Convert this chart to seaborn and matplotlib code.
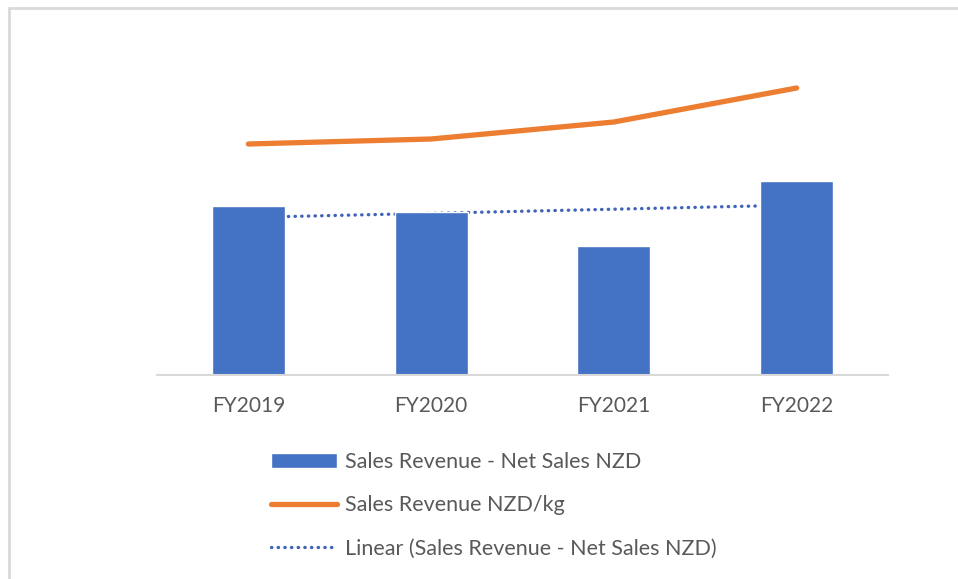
import numpy as np
import pandas as pd
import matplotlib
matplotlib.use("Agg")
import matplotlib.pyplot as plt
from matplotlib.patches import Rectangle
import seaborn as sns

# data (units are estimates)
years = ["FY2019", "FY2020", "FY2021", "FY2022"]
net_sales = [16.9, 16.3, 12.9, 19.4]
nzd_per_kg = [23.1, 23.6, 25.3, 28.7]

df = pd.DataFrame({"year": years, "net_sales": net_sales, "nzd_per_kg": nzd_per_kg})

sns.set_theme(style="white")
plt.rcParams["font.family"] = ["Lato", "DejaVu Sans"]

blue = "#4472C4"
orange = "#ED7D31"
grey_text = "#595959"

fig = plt.figure(figsize=(9.58, 5.79), dpi=100)
ax = fig.add_axes([157 / 958, 1 - 375 / 579, 731 / 958, 325 / 579])

# linear trend of the bars
idx = np.arange(len(years))
slope, intercept = np.polyfit(idx, df["net_sales"], 1)
trend = slope * idx + intercept
trend_line, = ax.plot(idx, trend, color="#3F63B8", lw=2.4, linestyle=(0, (0.1, 1.9)),
                      dash_capstyle="round", zorder=1)

sns.barplot(data=df, x="year", y="net_sales", color=blue, width=0.4,
            saturation=1, ax=ax, zorder=2)

ax2 = ax.twinx()
sns.lineplot(x=idx, y=df["nzd_per_kg"], color=orange, lw=3.8, ax=ax2,
             solid_capstyle="round", legend=False)

ax.set_xlim(-0.5, 3.5)
ax.set_ylim(0, 32.5)
ax2.set_ylim(0, 32.5)

for a in (ax, ax2):
    a.set_xlabel("")
    a.set_ylabel("")
    a.set_yticks([])
    for s in a.spines.values():
        s.set_visible(False)
    if a.get_legend() is not None:
        a.get_legend().remove()
ax.spines["bottom"].set_visible(True)
ax.spines["bottom"].set_color("#D9D9D9")
ax.spines["bottom"].set_linewidth(1.5)
ax.tick_params(axis="x", length=0, pad=15, labelsize=15, labelcolor=grey_text)

handles = [ax.patches[0], ax2.lines[0], trend_line]
labels = ["Sales Revenue - Net Sales NZD", "Sales Revenue NZD/kg",
          "Linear (Sales Revenue - Net Sales NZD)"]
leg = fig.legend(handles, labels, loc="upper left", bbox_to_anchor=(262 / 958, 1 - 443 / 579),
                 frameon=False, fontsize=15.5, handlelength=3.1, handletextpad=0.35,
                 labelspacing=1.1, borderaxespad=0)
for t in leg.get_texts():
    t.set_color(grey_text)

# outer chart frame
fig.patches.append(Rectangle((8.5 / 958, -0.05), 1.1, (1 - 8 / 579) + 0.05,
                             transform=fig.transFigure, fill=False,
                             edgecolor="#D9D9D9", lw=2))

fig.savefig("out.png", dpi=100)
